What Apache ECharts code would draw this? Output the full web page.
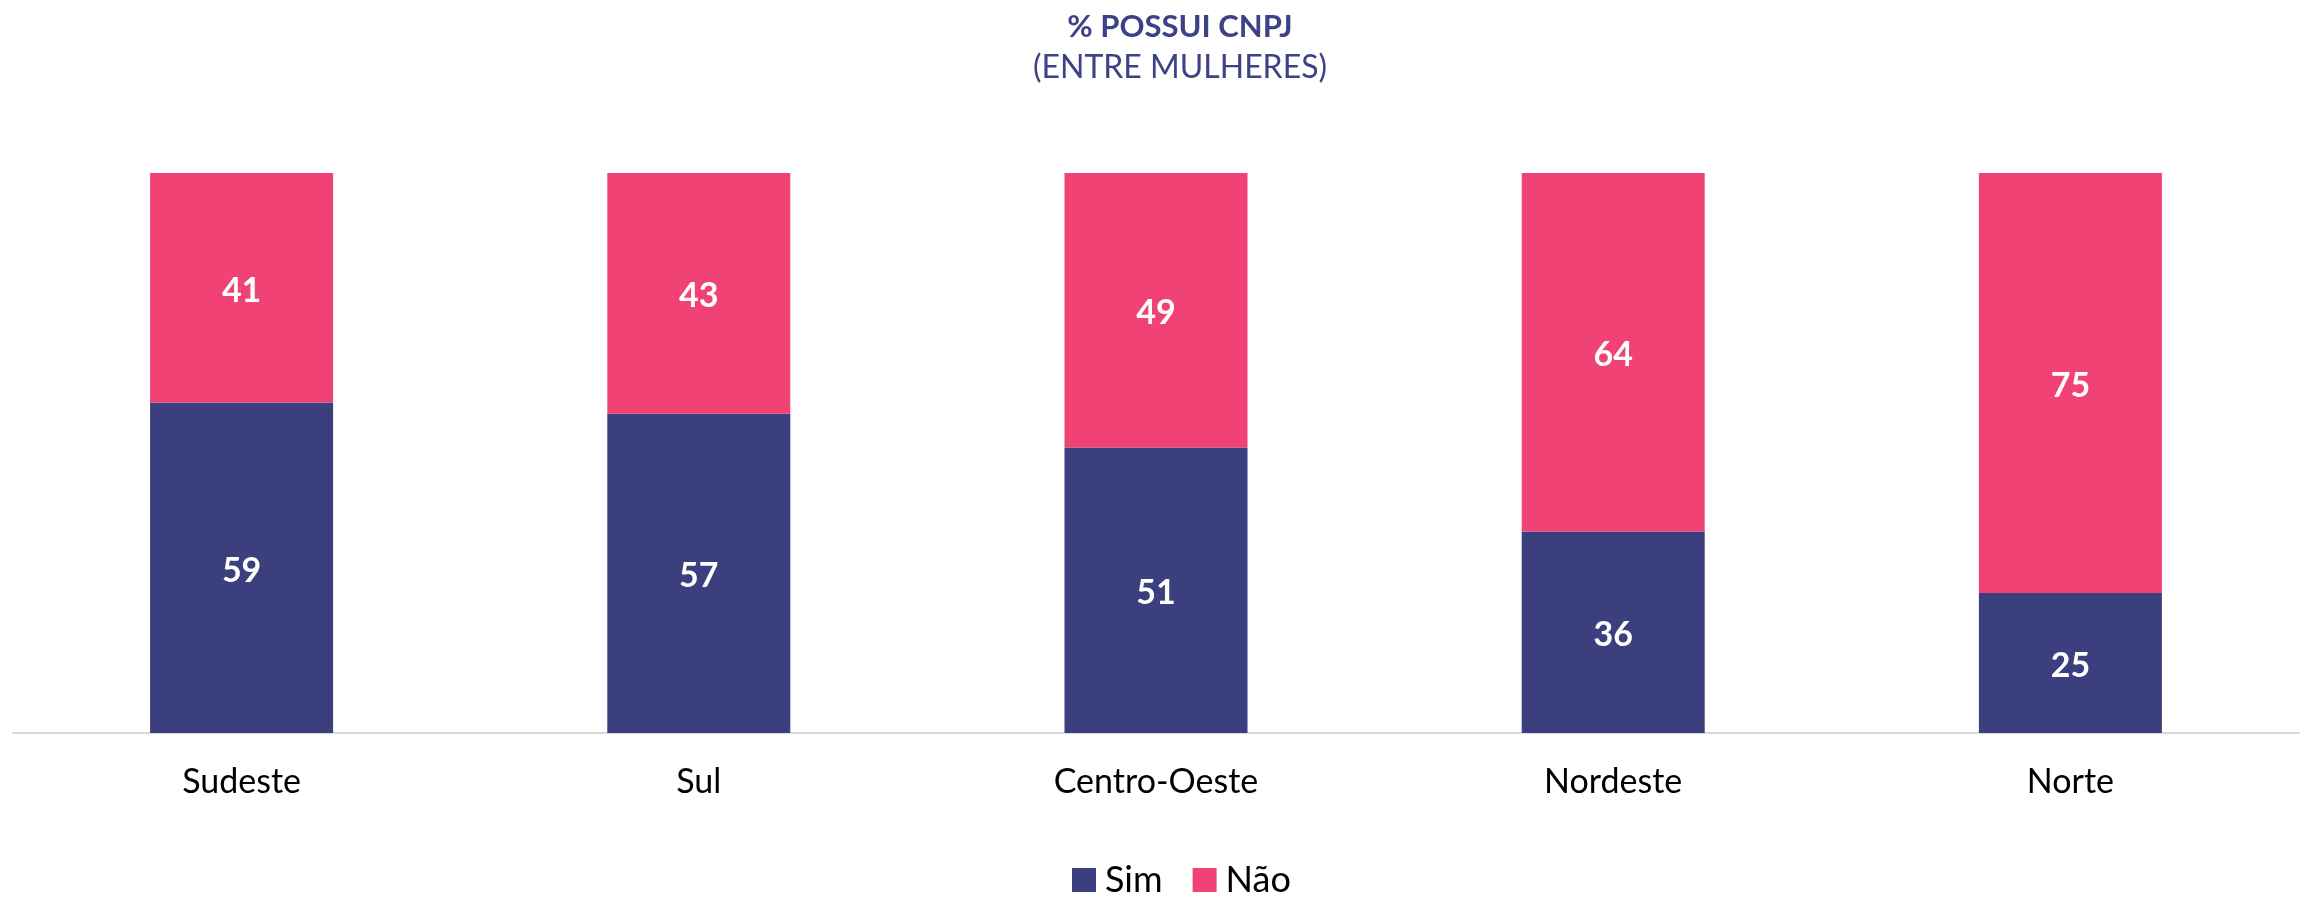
<!DOCTYPE html>
<html>
<head>
<meta charset="utf-8">
<script src="https://cdn.jsdelivr.net/npm/echarts@6/dist/echarts.min.js"></script>
<style>
    html, body { margin: 0; padding: 0; background: #fff; }
    #chart { width: 2305px; height: 899px; }
</style>
</head>
<body>
<div id="chart"></div>
<script>
const regioes = ['Sudeste', 'Sul', 'Centro-Oeste', 'Nordeste', 'Norte']
const sim = [59, 57, 51, 36, 25]
const nao = [41, 43, 49, 64, 75]
const corSim = '#3C3F7E'
const corNao = '#F04275'
const fonte = 'Lato, "Open Sans", sans-serif'

const chart = echarts.init(document.getElementById('chart'))

const rotulo = {
    show: true,
    position: 'inside',
    offset: [0, 3],
    color: '#fff',
    fontWeight: 'bold',
    fontSize: 34,
    fontFamily: fonte
}

chart.setOption({
    animation: false,
    title: {
        text: '% POSSUI CNPJ',
        subtext: '(ENTRE MULHERES)',
        left: 1175,
        textAlign: 'center',
        top: 6,
        itemGap: 10,
        textStyle: { color: '#3D4287', fontSize: 31, fontWeight: 'bold', fontFamily: fonte },
        subtextStyle: { color: '#3D4287', fontSize: 32, fontFamily: fonte }
    },
    legend: {
        data: ['Sim', 'Não'],
        bottom: -4,
        left: 1067,
        icon: 'rect',
        itemWidth: 24,
        itemHeight: 24,
        itemGap: 30,
        textStyle: { color: '#000', fontSize: 36, fontFamily: fonte, padding: [0, 0, 0, 4] }
    },
    grid: { left: 13, right: 6, top: 173, bottom: 166 },
    xAxis: {
        type: 'category',
        data: regioes,
        axisLine: { lineStyle: { color: '#D9D9D9', width: 2 } },
        axisTick: { show: false },
        axisLabel: { color: '#000', fontSize: 34, fontFamily: fonte, margin: 32 }
    },
    yAxis: {
        type: 'value',
        min: 0,
        max: 100,
        show: false,
        splitLine: { show: false }
    },
    series: [
        {
            name: 'Sim',
            type: 'bar',
            stack: 'total',
            data: sim,
            barWidth: 183,
            itemStyle: { color: corSim },
            label: rotulo
        },
        {
            name: 'Não',
            type: 'bar',
            stack: 'total',
            data: nao,
            barWidth: 183,
            itemStyle: { color: corNao },
            label: rotulo
        }
    ]
})
</script>
</body>
</html>
